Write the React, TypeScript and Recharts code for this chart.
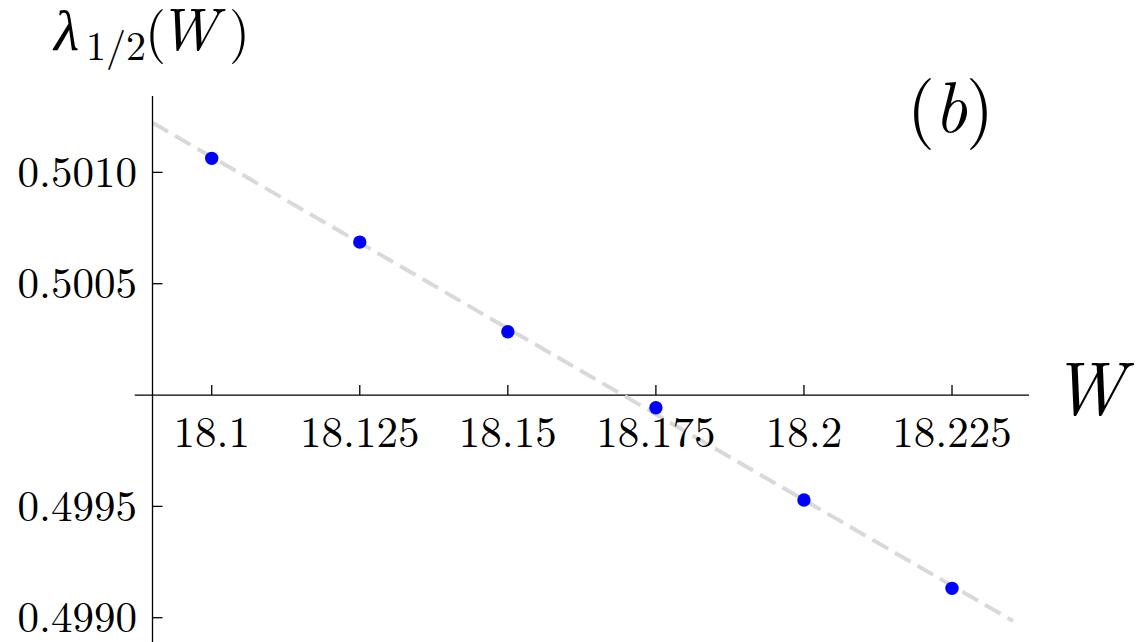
import React from 'react';
import {
  ComposedChart,
  XAxis,
  YAxis,
  Line,
  Scatter,
  ReferenceLine,
  ReferenceDot,
} from 'recharts';

// Sampled values of lambda_{1/2} against W
const widths = [18.1, 18.125, 18.15, 18.175, 18.2, 18.225];
const lambdaHalf = [0.501063, 0.500687, 0.500284, 0.499943, 0.499529, 0.499132];

// Linear fit through the samples (end points of the dashed line)
const fitW = [18.09, 18.2353];
const fitLambda = [0.501223, 0.498985];

// Axis ticks
const xTicks = [18.1, 18.125, 18.15, 18.175, 18.2, 18.225];
const xTickLabels = ['18.1', '18.125', '18.15', '18.175', '18.2', '18.225'];
const yTicks = [0.499, 0.4995, 0.5005, 0.501];
const yTickLabels = ['0.4990', '0.4995', '0.5005', '0.5010'];

const xDomain: [number, number] = [18.09, 18.238];
const yDomain: [number, number] = [0.498891, 0.501343];
const xAxisCross = 0.5;
const xAxisStart = 18.087;

const samples = widths.map((w, i) => ({ w, v: lambdaHalf[i] }));
const fit = fitW.map((w, i) => ({ w, v: fitLambda[i] }));

const FONT = '"Latin Modern Roman", "CMU Serif", "Liberation Serif", serif';
const textStyle = { fontFamily: FONT };
const AXIS = '#000';

const yLabelFor = (v: number) => {
  const i = yTicks.indexOf(v);
  return i >= 0 ? yTickLabels[i] : v.toFixed(4);
};

const YTick = (p: any) => (
  <text
    x={p.x}
    y={p.y}
    dy="0.33em"
    textAnchor="end"
    fontSize={43}
    fill="#000"
    style={textStyle}
  >
    {yLabelFor(p.payload.value)}
  </text>
);

export default function App() {
  return (
    <div style={{ position: 'absolute', left: 0, top: 0, width: 1142, height: 642, background: '#fff' }}>
      <ComposedChart
        width={1142}
        height={642}
        margin={{ top: 96, right: 113, bottom: 0, left: 0 }}
      >
        <XAxis
          dataKey="w"
          type="number"
          domain={xDomain}
          allowDataOverflow
          hide
        />
        <YAxis
          type="number"
          domain={yDomain}
          allowDataOverflow
          ticks={yTicks}
          interval={0}
          width={152.5}
          tickSize={-10}
          tickMargin={25.5}
          axisLine={{ stroke: AXIS, strokeWidth: 1.3 }}
          tickLine={{ stroke: AXIS, strokeWidth: 1.3 }}
          tick={YTick}
        />
        <ReferenceLine
          segment={[
            { x: xAxisStart, y: xAxisCross },
            { x: xDomain[1], y: xAxisCross },
          ]}
          ifOverflow="visible"
          stroke={AXIS}
          strokeWidth={1.3}
        />
        {xTicks.map((t, i) => (
          <ReferenceDot
            key={t}
            x={t}
            y={xAxisCross}
            ifOverflow="visible"
            shape={(p: any) => (
              <g>
                <line
                  x1={p.cx}
                  x2={p.cx}
                  y1={p.cy}
                  y2={p.cy - 10}
                  stroke={AXIS}
                  strokeWidth={1.3}
                />
                <text
                  x={p.cx}
                  y={p.cy + 52}
                  textAnchor="middle"
                  fontSize={43}
                  fill="#000"
                  style={textStyle}
                >
                  {xTickLabels[i]}
                </text>
              </g>
            )}
          />
        ))}
        <Line
          data={fit}
          dataKey="v"
          type="linear"
          stroke="#d9d9d9"
          strokeWidth={4}
          strokeDasharray="18 8"
          dot={false}
          activeDot={false}
          isAnimationActive={false}
        />
        <Scatter
          data={samples}
          dataKey="v"
          isAnimationActive={false}
          shape={(p: any) => <circle cx={p.cx} cy={p.cy} r={6.7} fill="#0000ff" />}
        />
      </ComposedChart>
      <svg
        width={1142}
        height={642}
        style={{ position: 'absolute', left: 0, top: 0, pointerEvents: 'none' }}
      >
        {/* y-axis label: lambda_{1/2}(W) */}
        <g fill="#000" style={textStyle}>
          <text x={54} y={50} fontSize={58} fontStyle="italic">λ</text>
          <text x={86} y={60} fontSize={40}>1/2</text>
          <text x={145} y={50} fontSize={54}>(</text>
          <text x={158} y={50} fontSize={60} fontStyle="italic">W</text>
          <text x={229} y={50} fontSize={54}>)</text>
        </g>
        {/* panel tag */}
        <g fill="#000" style={textStyle}>
          <text x={907} y={132} fontSize={72}>(</text>
          <text x={934} y={132} fontSize={72} fontStyle="italic">b</text>
          <text x={966} y={132} fontSize={72}>)</text>
        </g>
        {/* x-axis label */}
        <text x={1051} y={414} fontSize={74} fontStyle="italic" fill="#000" style={textStyle}>
          W
        </text>
      </svg>
    </div>
  );
}
